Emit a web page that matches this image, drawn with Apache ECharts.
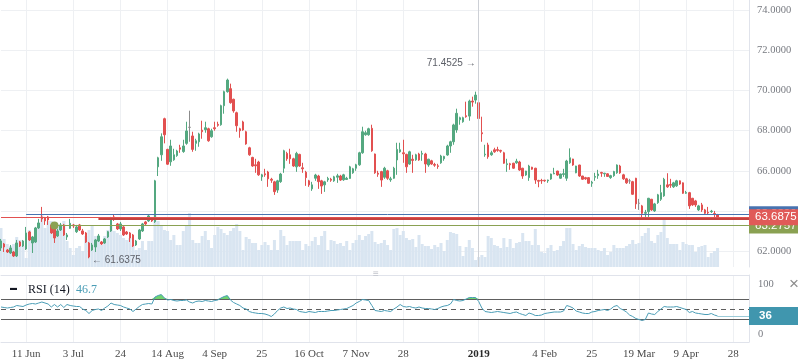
<!DOCTYPE html>
<html><head><meta charset="utf-8">
<script src="https://cdn.jsdelivr.net/npm/echarts@6/dist/echarts.min.js"></script>
<style>html,body{margin:0;padding:0;background:#fff}#c{width:798px;height:363px}</style>
</head><body><div id="c"></div>
<script>
// ---- data: [open, close, low, high] per daily bar ----
const candles = [
[62.15,62.5,62.0,62.6],[62.35,62.2,61.95,62.4],[62.05,61.95,61.9,62.1],[61.9,62.15,61.85,62.3],[61.95,61.75,61.7,62.0],
[61.75,62.4,61.7,62.55],[62.45,62.25,62.2,62.5],[62.25,62.5,62.2,62.55],[62.1,62.9,62.05,63.2],[62.95,62.55,62.5,63.0],
[62.4,62.7,61.9,62.75],[62.45,63.15,62.4,63.2],[63.15,63.4,63.1,63.6],[63.7,63.6,63.45,64.2],[63.65,63.5,63.3,63.7],
[63.7,63.55,63.3,63.75],[63.3,62.9,62.85,63.35],[63.15,62.65,62.4,63.2],[62.75,63.0,62.7,63.1],[63.05,63.3,63.0,63.4],
[63.3,62.8,62.75,63.35],[62.7,62.8,62.55,62.9],[63.13,63.38,63.1,63.6],[63.3,63.25,63.15,63.35],[62.96,63.2,62.9,63.3],
[63.3,63.05,63.0,63.35],[63.0,62.85,62.8,63.1],[62.9,62.45,62.4,62.95],[62.4,61.7,61.6375,62.45],[62.05,62.3,62.0,62.4],
[62.2,62.55,61.95,62.6],[62.5,62.75,62.45,62.85],[62.45,62.35,62.3,62.5],[62.4,62.6,62.35,62.65],[62.7,62.96,62.65,63.0],
[63.0,63.65,62.95,63.7],[63.7,63.6,63.5,63.8],[63.35,63.1,63.05,63.4],[63.1,63.35,63.0,63.45],[63.2,62.8,62.75,63.25],
[62.95,62.85,62.8,63.0],[62.9,62.65,62.45,62.95],[62.8,62.25,62.2,62.85],[62.3,62.5,62.25,62.55],[62.6,63.05,62.55,63.1],
[63.0,63.35,62.95,63.4],[63.45,63.35,63.3,63.5],[63.5,63.75,63.45,63.8],[63.6,63.5,63.45,63.65],[63.46,65.5,63.4,65.55],
[66.2,66.65,65.74,66.7],[66.8,67.7,66.5,67.87],[68.6,67.8,67.37,68.65],[67.07,66.33,66.3,67.1],[66.45,67.24,66.25,67.55],
[66.55,66.8,66.5,67.1],[66.76,66.99,66.7,67.05],[67.15,67.08,66.9,67.3],[66.96,67.24,66.9,67.55],[67.37,67.99,67.3,68.45],
[68.17,68.17,67.45,69.0],[67.74,67.07,66.95,67.95],[67.37,67.5,67.0,67.6],[67.45,67.84,67.2,67.9],[68.03,67.95,67.6,68.5],
[68.05,68.15,67.9,68.45],[68.1,67.5,67.45,68.15],[67.7,68.0,67.65,68.1],[68.15,68.1,68.0,68.45],[68.32,68.27,68.2,68.45],
[68.3,69.25,68.25,69.3],[69.25,69.95,68.85,70.0],[69.95,70.53,69.9,70.6],[70.1,69.4,69.35,70.35],[69.57,68.99,68.9,69.6],
[68.9,68.25,67.95,68.95],[68.1,68.0,67.65,68.15],[68.44,68.04,68.0,68.5],[67.95,67.34,67.3,68.0],[67.15,66.8,66.75,67.2],
[66.67,66.24,66.2,66.7],[66.3,66.25,65.9,66.6],[66.44,65.8,65.75,66.5],[65.7,65.8,65.5,65.85],[65.85,65.8,65.7,66.1],
[65.94,65.6,65.2,66.0],[65.58,65.53,65.4,65.65],[65.45,64.96,64.8,65.5],[65.04,65.5,64.9,65.55],[65.46,65.84,65.4,65.9],
[66.13,67.0,65.9,67.05],[66.87,66.6,66.5,66.95],[66.8,66.6,66.35,67.1],[66.6,66.24,66.2,66.65],[66.2,66.87,65.95,66.95],
[66.82,66.24,66.2,66.85],[66.15,66.1,65.9,66.4],[65.93,65.66,65.25,66.0],[65.5,65.3,65.2,65.55],[65.1,65.3,65.0,65.45],
[65.63,65.79,65.5,65.85],[65.74,65.46,65.1,65.8],[65.5,65.24,64.85,65.55],[65.3,65.45,64.95,65.5],[65.55,65.62,65.45,65.7],
[65.58,65.53,65.45,65.65],[65.5,65.7,65.45,65.75],[65.68,65.75,65.4,65.85],[65.74,65.54,65.5,65.8],[65.55,65.8,65.5,65.85],
[65.57,65.63,65.55,65.7],[65.62,66.2,65.6,66.25],[65.9,66.1,65.85,66.15],[66.13,66.3,66.0,66.35],[66.3,66.9,66.25,66.95],
[66.9,67.95,66.85,68.2],[67.8,67.9,67.75,68.0],[67.8,68.1,67.75,68.15],[68.12,67.0,66.95,68.3],[66.84,65.9,65.85,66.86],
[65.88,65.83,65.7,66.0],[65.96,65.54,65.2,66.0],[65.68,66.13,65.6,66.2],[66.0,65.63,65.55,66.05],[65.55,65.6,65.45,65.7],
[65.63,66.13,65.6,66.2],[66.54,67.07,65.8,67.4],[66.95,67.05,66.9,67.4],[66.9,66.85,66.4,67.55],[66.82,66.2,65.9,66.85],
[66.34,66.95,66.3,67.0],[66.58,66.52,65.9,66.8],[66.55,66.8,66.5,66.85],[66.84,66.54,66.5,66.9],[66.83,66.87,66.5,67.0],
[66.84,66.34,65.9,66.9],[66.29,66.58,66.2,66.6],[66.5,66.34,66.3,66.55],[66.32,66.28,66.2,66.4],[66.25,66.22,66.1,66.35],
[66.4,66.74,66.35,66.8],[66.6,66.72,66.5,66.75],[66.79,67.24,66.75,67.3],[67.24,67.45,66.9,67.5],[67.45,68.29,67.3,68.35],
[68.04,68.87,67.9,69.1],[68.55,68.65,68.3,68.7],[68.45,68.65,68.4,68.7],[68.75,68.7,68.65,69.45],[68.73,69.48,68.5,69.55],
[69.48,69.43,69.2,69.7],[69.53,69.78,69.35,69.95],[69.4,68.61,68.45,71.4525],[67.9,67.85,67.45,68.7],[66.8,66.83,66.7,67.3],
[67.29,66.7,66.6,67.4],[66.8,66.9,66.75,67.0],[67.05,66.95,66.9,67.15],[67.06,67.02,66.95,67.2],[67.02,66.98,66.9,67.05],
[66.9,66.38,66.35,66.95],[66.31,66.35,65.95,66.6],[66.35,66.3,66.05,66.4],[66.38,66.13,66.1,66.4],[66.4,66.48,66.35,66.6],
[66.44,66.04,66.0,66.5],[66.13,65.74,65.6,66.15],[65.79,65.99,65.75,66.0],[65.66,66.24,65.5,66.3],[66.18,66.08,66.05,66.2],
[66.13,65.54,65.35,66.15],[65.52,65.48,65.18,65.55],[65.52,65.5,65.35,65.6],[65.53,65.5,65.45,65.55],[65.5,65.54,65.4,65.56],
[65.59,65.84,65.55,65.86],[65.85,65.88,65.83,66.15],[65.99,65.79,65.75,66.0],[65.63,65.84,65.6,65.86],[65.82,65.86,65.7,66.1],
[65.63,66.49,65.5,66.55],[66.4,66.65,66.35,67.12],[66.59,66.29,66.25,66.6],[65.9,66.24,65.88,66.25],[66.29,65.74,65.7,66.3],
[65.74,65.58,65.55,65.75],[65.66,65.6,65.55,65.7],[65.66,65.38,65.35,65.68],[65.38,65.43,65.2,65.5],[65.68,65.72,65.5,65.9],
[65.76,65.84,65.6,66.05],[65.92,65.88,65.7,65.95],[65.85,65.88,65.7,65.9],[65.85,65.72,65.7,65.88],[65.66,65.76,65.6,65.8],
[65.76,65.96,65.7,66.0],[65.9,66.29,65.85,66.32],[66.24,65.9,65.85,66.3],[65.8,65.6,65.55,65.85],[65.6,65.4,65.35,65.65],
[65.5,65.5,65.35,65.6],[65.46,64.83,64.8,65.5],[65.63,64.35,64.1,65.65],[64.38,64.38,64.05,64.6],[64.25,63.88,63.68,64.3],
[63.88,63.92,63.7,64.05],[63.96,64.63,63.7,64.65],[64.58,64.05,64.0,64.6],[64.0,64.35,63.95,64.4],[64.41,64.8,64.35,64.85],
[64.58,64.91,64.5,65.3],[64.75,65.58,64.7,65.65],[65.3,65.2,65.15,65.88],[65.32,65.28,65.15,65.6],[65.2,65.4,65.15,65.45],
[65.25,65.5,65.2,65.55],[65.5,65.34,65.3,65.52],[65.4,64.88,64.85,65.42],[64.88,64.92,64.85,65.0],[64.91,64.25,64.1,64.95],
[64.63,64.3,64.25,64.65],[64.5,64.3,64.2,64.55],[64.05,64.25,64.0,64.3],[64.3,64.05,63.95,64.4],[64.05,63.88,63.8,64.1],
[63.93,63.9,63.8,64.2],[63.96,63.99,63.9,64.05],[63.87,63.83,63.65,64.0],[63.8,63.6875,63.65,63.85]
];
const grayBars = [60, 200, 203];
const volume = [39,28,23,21,23,30,27,21,9,37, 27,35,40,52,39,46,46,44,43,42, 46,26,19,12,19,21,16,31,37,42,
 31,26,22,31,37,42,36,34,32,29, 27,29,22,17,19,26,17,26,26,52, 46,42,37,36,27,32,22,22,36,41,
 54,27,24,24,31,36,27,19,32,40, 38,34,32,36,39,43,36,17,30,28, 24,24,17,22,25,22,17,27,17,37,
 31,22,26,26,26,26,17,23,21,26, 30,22,31,36,17,27,26,23,24,21, 26,17,24,27,32,27,31,33,36,25,
 23,24,27,22,17,38,39,32,36,29, 27,28,20,32,23,21,21,18,22,20, 24,16,27,35,34,33,21,11,20,27,
 19,7,10,12,10,31,29,22,21,19, 29,20,28,19,24,25,34,26,26,22, 38,22,15,14,19,22,16,17,21,26,
 39,39,23,17,21,23,20,19,19,19, 17,16,19,12,15,22,19,19,19,21, 23,27,23,24,31,34,39,26,24,32,
 35,47,29,23,23,23,17,25,23,22, 22,15,20,21,22,10,14,16,19];
const rsi = [54,53,52,53,54,57,56,55,58,60, 61,60,62,64,62,60,54,59,54,59, 53,59,57,56,55,55,50,47,41,47,
 49,50,47,52,56,62,59,58,57,54, 52,50,45,50,55,59,60,61,60,74, 77,79,72,68,69,67,66,67,67,68,
 64,62,65,66,65,67,66,65,67,68, 72,75,77,68,63,60,57,52,50,45, 43,42,41,41,40,38,35,40,47,52,
 54,51,52,50,49,45,44,43,45,44, 43,45,45,45,46,47,47,48,49,50, 51,54,57,62,65,69,68,67,57,47,
 46,45,47,46,45,50,54,59,55,54, 55,53,52,54,52,51,51,50,49,51, 54,56,57,60,69,67,66,67,70,73,
 73,73,65,52,45,44,43,44,45,44, 43,42,41,43,44,41,39,37,42,40, 37,37,38,41,42,43,44,44,44,46,
 57,55,52,46,44,42,41,41,44,45, 47,48,49,47,50,55,57,51,48,44, 38,35,31,29,27,29,42,40,39,45,
 50,55,54,54,54,55,53,51,49,43, 45,42,41,40,39,39,41,38,36];
const slotCount = 239;                 // bars + empty future slots
const tickIdx  = [8,23,38,53,68,83,98,113,128,152,173,188,203,218,233];
const tickText = ['11 Jun','3 Jul','24','14 Aug','4 Sep','25','16 Oct','7 Nov','28','2019','4 Feb','25','19 Mar','9 Apr','28'];
const lastPrice = 63.6875, blueLevel = 63.83, oliveLevel = 63.2757, rayLevel = 63.63;
const blueStart = 8, oliveStart = 17, rayStart = 31;
const highIdx = 152, highVal = 71.4525, lowIdx = 28, lowVal = 61.6375;
const rsiHeader = '46.7', rsiLast = 36, yearIdx = 152;

// ---- chart ----
const slots = Array.from({length: slotCount}, (_, i) => String(i));
const UP = '#54a880', DN = '#e25050', GR = '#8b8b8b', GRID = '#eef0f3', BORDER = '#e0e3eb';
const SERIF = 'Liberation Serif', SANS = 'Liberation Sans';
const showTick = (i) => tickIdx.includes(i);
const candleData = candles.map((c, i) => grayBars.includes(i)
  ? {value: c, itemStyle: {color: GR, color0: GR, borderColor: GR, borderColor0: GR}} : c);
const L = 1, W = 748, PX = 20.04;   // px per price unit
const chart = echarts.init(document.getElementById('c'), null, {renderer: 'canvas'});
const hidX = (g) => ({type: 'category', gridIndex: g, data: slots, boundaryGap: false, show: false});
const boxLabel = (txt, bg) => ({show: true, position: 'end', distance: 0, formatter: txt,
  backgroundColor: bg, color: '#fff', fontFamily: SANS, fontSize: 11.5, padding: [2, 8, 2, 6], lineHeight: 12});
chart.setOption({
  animation: false,
  title: [
    {text: '▬', left: 5, top: 280, textStyle: {fontSize: 7, color: '#131722'}},
    {text: 'RSI (14)', left: 23, top: 279, textStyle: {fontFamily: SERIF, fontSize: 12, fontWeight: 'normal', color: '#131722'}},
    {text: rsiHeader, left: 71, top: 279, textStyle: {fontFamily: SERIF, fontSize: 12, fontWeight: 'normal', color: '#4a9db6'}},
    {text: '≡', left: 368, top: 264, textStyle: {fontFamily: SANS, fontSize: 10, fontWeight: 'normal', color: '#c2c5cc'}},
    {text: '×', left: 784, top: 271, textStyle: {fontFamily: SANS, fontSize: 17, fontWeight: 'normal', color: '#8d8d8d'}}
  ],
  grid: [
    {left: L, width: W, top: 0, height: 267},
    {left: L, width: W, top: 10.5, height: 14 * PX},
    {left: L, width: W, top: 275, height: 67},
    {left: L, width: W, top: 284, height: 50}
  ],
  xAxis: [
    {type: 'category', gridIndex: 0, data: slots, boundaryGap: false, axisLine: {show: false}, axisTick: {show: false},
     axisLabel: {show: false}, splitLine: {show: true, interval: showTick, lineStyle: {color: GRID}}},
    hidX(1),
    {type: 'category', gridIndex: 2, data: slots, boundaryGap: false, position: 'bottom',
     axisLine: {show: true, lineStyle: {color: BORDER}}, axisTick: {show: false},
     axisLabel: {interval: showTick, margin: 7, color: '#4a4a4a', fontFamily: SERIF, fontSize: 11,
       formatter: (v) => { const t = tickText[tickIdx.indexOf(Number(v))]; return t === '2019' ? '{b|2019}' : t; },
       rich: {b: {fontWeight: 'bold', fontFamily: SERIF, fontSize: 11, color: '#2a2a2a'}}},
     splitLine: {show: true, interval: showTick, lineStyle: {color: GRID}}},
    {type: 'category', gridIndex: 2, data: slots, boundaryGap: false, position: 'top',
     axisLine: {show: true, lineStyle: {color: BORDER}}, axisTick: {show: false}, axisLabel: {show: false}, splitLine: {show: false}},
    hidX(3)
  ],
  yAxis: [
    {type: 'value', gridIndex: 0, position: 'right', min: 0, max: 267, axisLine: {show: true, lineStyle: {color: BORDER}},
     axisLabel: {show: false}, axisTick: {show: false}, splitLine: {show: false}},
    {type: 'value', gridIndex: 1, position: 'right', min: 60, max: 74, interval: 2, axisLine: {show: false}, axisTick: {show: false},
     axisLabel: {formatter: (v) => v.toFixed(4), showMinLabel: false, margin: 8, color: '#777a80', fontFamily: SERIF, fontSize: 10.5},
     splitLine: {show: true, showMinLine: false, lineStyle: {color: GRID}}},
    {type: 'value', gridIndex: 2, position: 'right', min: 0, max: 1, axisLine: {show: true, lineStyle: {color: BORDER}},
     axisLabel: {show: false}, axisTick: {show: false}, splitLine: {show: false}},
    {type: 'value', gridIndex: 3, position: 'right', min: 0, max: 100, interval: 100, axisLine: {show: false}, axisTick: {show: false},
     axisLabel: {margin: 9, color: '#777a80', fontFamily: SERIF, fontSize: 10.5}, splitLine: {show: false}}
  ],
  series: [
    {type: 'bar', xAxisIndex: 0, yAxisIndex: 0, data: volume, barWidth: 3, silent: true,
     itemStyle: {color: '#d9e5f1'},
     markLine: {silent: true, symbol: ['none', 'none'], label: {show: false}, lineStyle: {color: '#cdd0d6', width: 1, type: 'solid'},
       data: [{xAxis: String(yearIdx)}]}},
    {type: 'candlestick', xAxisIndex: 1, yAxisIndex: 1, data: candleData, barWidth: 2.2, clip: false,
     itemStyle: {color: UP, color0: DN, borderColor: UP, borderColor0: DN, borderWidth: 1},
     markPoint: {symbol: 'circle', symbolSize: 0, silent: true,
       data: [
         {coord: [String(highIdx), highVal], label: {show: true, position: 'left', distance: 3, offset: [0, 1.5], formatter: highVal.toFixed(4) + ' →', color: '#5d6068', fontFamily: SANS, fontSize: 10}},
         {coord: [String(lowIdx), lowVal], label: {show: true, position: 'right', distance: 3, offset: [0, 2.5], formatter: '← ' + lowVal.toFixed(4), color: '#5d6068', fontFamily: SANS, fontSize: 10}}
       ]},
     markLine: {silent: true, symbol: ['none', 'none'], animation: false,
       data: [
         [{coord: [String(blueStart), blueLevel], lineStyle: {color: '#4873b0', width: 1, type: 'solid'}, label: boxLabel(blueLevel.toFixed(4), '#4873b0')},
          {coord: [String(slotCount - 1), blueLevel]}],
         [{coord: [String(oliveStart), oliveLevel], symbol: 'circle', symbolSize: 8, lineStyle: {color: '#8aa152', width: 1.2, type: 'solid'}, label: boxLabel(oliveLevel.toFixed(4), '#8aa152')},
          {coord: [String(slotCount - 1), oliveLevel]}],
         [{coord: [String(rayStart), rayLevel], lineStyle: {color: '#c4413e', width: 2, type: 'solid'}, label: {show: false}},
          {coord: [String(slotCount - 1), rayLevel]}],
         [{coord: ['0', lastPrice], lineStyle: {color: '#e25050', width: 1, type: 'solid'}, label: boxLabel(lastPrice.toFixed(4), '#e05a58')},
          {coord: [String(slotCount - 1), lastPrice]}]
       ]}},
    {type: 'line', xAxisIndex: 4, yAxisIndex: 3, data: rsi.map(() => 70), stack: 'ob', symbol: 'none', silent: true, lineStyle: {opacity: 0}},
    {type: 'line', xAxisIndex: 4, yAxisIndex: 3, data: rsi.map(v => Math.max(v - 70, 0)), stack: 'ob', symbol: 'none', silent: true,
     lineStyle: {opacity: 0}, areaStyle: {color: '#6fd36f', opacity: 1}},
    {type: 'line', xAxisIndex: 4, yAxisIndex: 3, data: rsi.map(v => Math.min(v, 30)), stack: 'os', symbol: 'none', silent: true, lineStyle: {opacity: 0}},
    {type: 'line', xAxisIndex: 4, yAxisIndex: 3, data: rsi.map(v => 30 - Math.min(v, 30)), stack: 'os', symbol: 'none', silent: true,
     lineStyle: {opacity: 0}, areaStyle: {color: '#e05050', opacity: 1}},
    {type: 'line', xAxisIndex: 4, yAxisIndex: 3, data: rsi, symbol: 'none', silent: true, z: 5,
     lineStyle: {color: '#4a9db6', width: 1},
     markLine: {silent: true, symbol: ['none', 'none'],
       data: [
         {yAxis: 70, lineStyle: {color: '#5e5e5e', width: 1, type: 'solid'}, label: {show: false}},
         {yAxis: 30, lineStyle: {color: '#5e5e5e', width: 1, type: 'solid'}, label: {show: false}},
         {yAxis: 50, lineStyle: {color: '#5e5e5e', width: 1, type: [5, 4]}, label: {show: false}},
         [{coord: [String(rsi.length - 1), rsiLast], lineStyle: {color: '#9ccbd8', width: 1, type: 'solid'},
           label: {show: true, position: 'end', distance: 0, formatter: String(rsiLast), backgroundColor: '#4096ae', color: '#fff',
             fontFamily: SANS, fontSize: 11.5, fontWeight: 'bold', padding: [3, 30, 3, 10], lineHeight: 12}},
          {coord: [String(slotCount - 1), rsiLast]}]
       ]}}
  ]
});
</script></body></html>
